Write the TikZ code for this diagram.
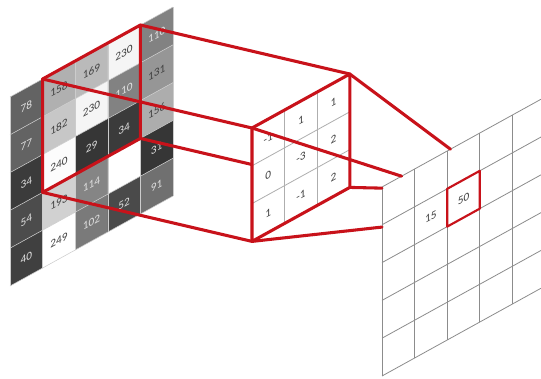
\documentclass[tikz,border=0pt]{standalone}
\usepackage{fontspec}
\setmainfont{Carlito}
\definecolor{convred}{RGB}{200,18,26}
\definecolor{gridgray}{RGB}{140,140,140}
\begin{document}
\begin{tikzpicture}[x=.75pt,y=-.75pt,font=\fontsize{8.5}{10}\selectfont,
    plane/.style={shift={#1},yslant=.552,x=24.45pt,y=-28.35pt},
    cellnum/.style={transform shape,inner sep=0pt,text=black!75},
    redline/.style={convred,line width=2.3pt,line cap=round,line join=round},
    thinline/.style={gridgray,line width=.6pt}]
  \useasboundingbox (0,0) rectangle (541,378);
  \clip (0,0) rectangle (541,378);
  \begin{scope}[plane={(10,97)}]
    \foreach \c/\r/\v in {0/0/78,1/0/158,2/0/169,3/0/230,4/0/110,
      0/1/77,1/1/182,2/1/230,3/1/110,4/1/131,
      0/2/34,1/2/240,2/2/29,3/2/34,4/2/156,
      0/3/54,1/3/193,2/3/114,3/3/255,4/3/31,
      0/4/40,1/4/249,2/4/102,3/4/52,4/4/91} {
      \pgfmathtruncatemacro\shade{max(0,100-(24+.95*\v)/2.55)}
      \ifnum\v<125 \def\numcol{white!88!black}\else\def\numcol{black!75}\fi
      \fill[black!\shade] (\c,\r) rectangle ++(1,1);
      \ifnum\v<255 \node[cellnum,text=\numcol] (in-\c-\r) at (\c+.5,\r+.5) {\v};\fi
    }
    \foreach \k in {0,...,5} {
      \draw[white!60!gray,line width=.4pt] (\k,0) -- (\k,5);
      \draw[white!60!gray,line width=.4pt] (0,\k) -- (5,\k);
    }
    \draw[redline] (1,0) rectangle (4,3);
    \coordinate (in-tl) at (1,0);
    \coordinate (in-tr) at (4,0);
    \coordinate (in-br) at (4,3);
    \coordinate (in-bl) at (1,3);
  \end{scope}
  \begin{scope}[plane={(252,128)}]
    \coordinate (k-tl) at (0,0);
    \coordinate (k-tr) at (3,0);
    \coordinate (k-br) at (3,3);
    \coordinate (k-bl) at (0,3);
  \end{scope}
  \draw[redline] (in-tl) -- (k-tl);
  \draw[redline] (in-tr) -- (k-tr);
  \draw[redline] (in-br) -- (k-br);
  \draw[redline] (in-bl) -- (k-bl);
  \begin{scope}[plane={(252,128)}]
    \fill[white] (0,0) rectangle (3,3);
    \foreach \k in {1,2} {
      \draw[thinline,gridgray!70] (\k,0) -- (\k,3);
      \draw[thinline,gridgray!70] (0,\k) -- (3,\k);
    }
    \foreach \c/\r/\v in {0/0/-1,1/0/1,2/0/1,0/1/0,1/1/-3,2/1/2,0/2/1,1/2/-1,2/2/2}
      \node[cellnum] (k-\c-\r) at (\c+.5,\r+.5) {\v};
    \draw[redline] (0,0) rectangle (3,3);
  \end{scope}
  \begin{scope}[plane={(382,187)}]
    \fill[white] (0,0) rectangle (5,5);
    \foreach \k in {0,...,5} {
      \draw[thinline] (\k,0) -- (\k,5);
      \draw[thinline] (0,\k) -- (5,\k);
    }
    \draw[convred,line width=1.6pt,line join=round] (2,1) rectangle (3,2);
    \node[cellnum] (out-1-1) at (1.5,1.5) {15};
    \node[cellnum] (out-2-1) at (2.5,1.5) {50};
    \coordinate (out-a) at (.6,0);
    \coordinate (out-b) at (2.1,0);
    \coordinate (out-c) at (0,.03);
    \coordinate (out-d) at (0,1.06);
  \end{scope}
  \draw[redline] (k-tl) -- (out-a);
  \draw[redline] (k-tr) -- (out-b);
  \draw[redline] (k-br) -- (out-c);
  \draw[redline] (k-bl) -- (out-d);
\end{tikzpicture}
\end{document}
